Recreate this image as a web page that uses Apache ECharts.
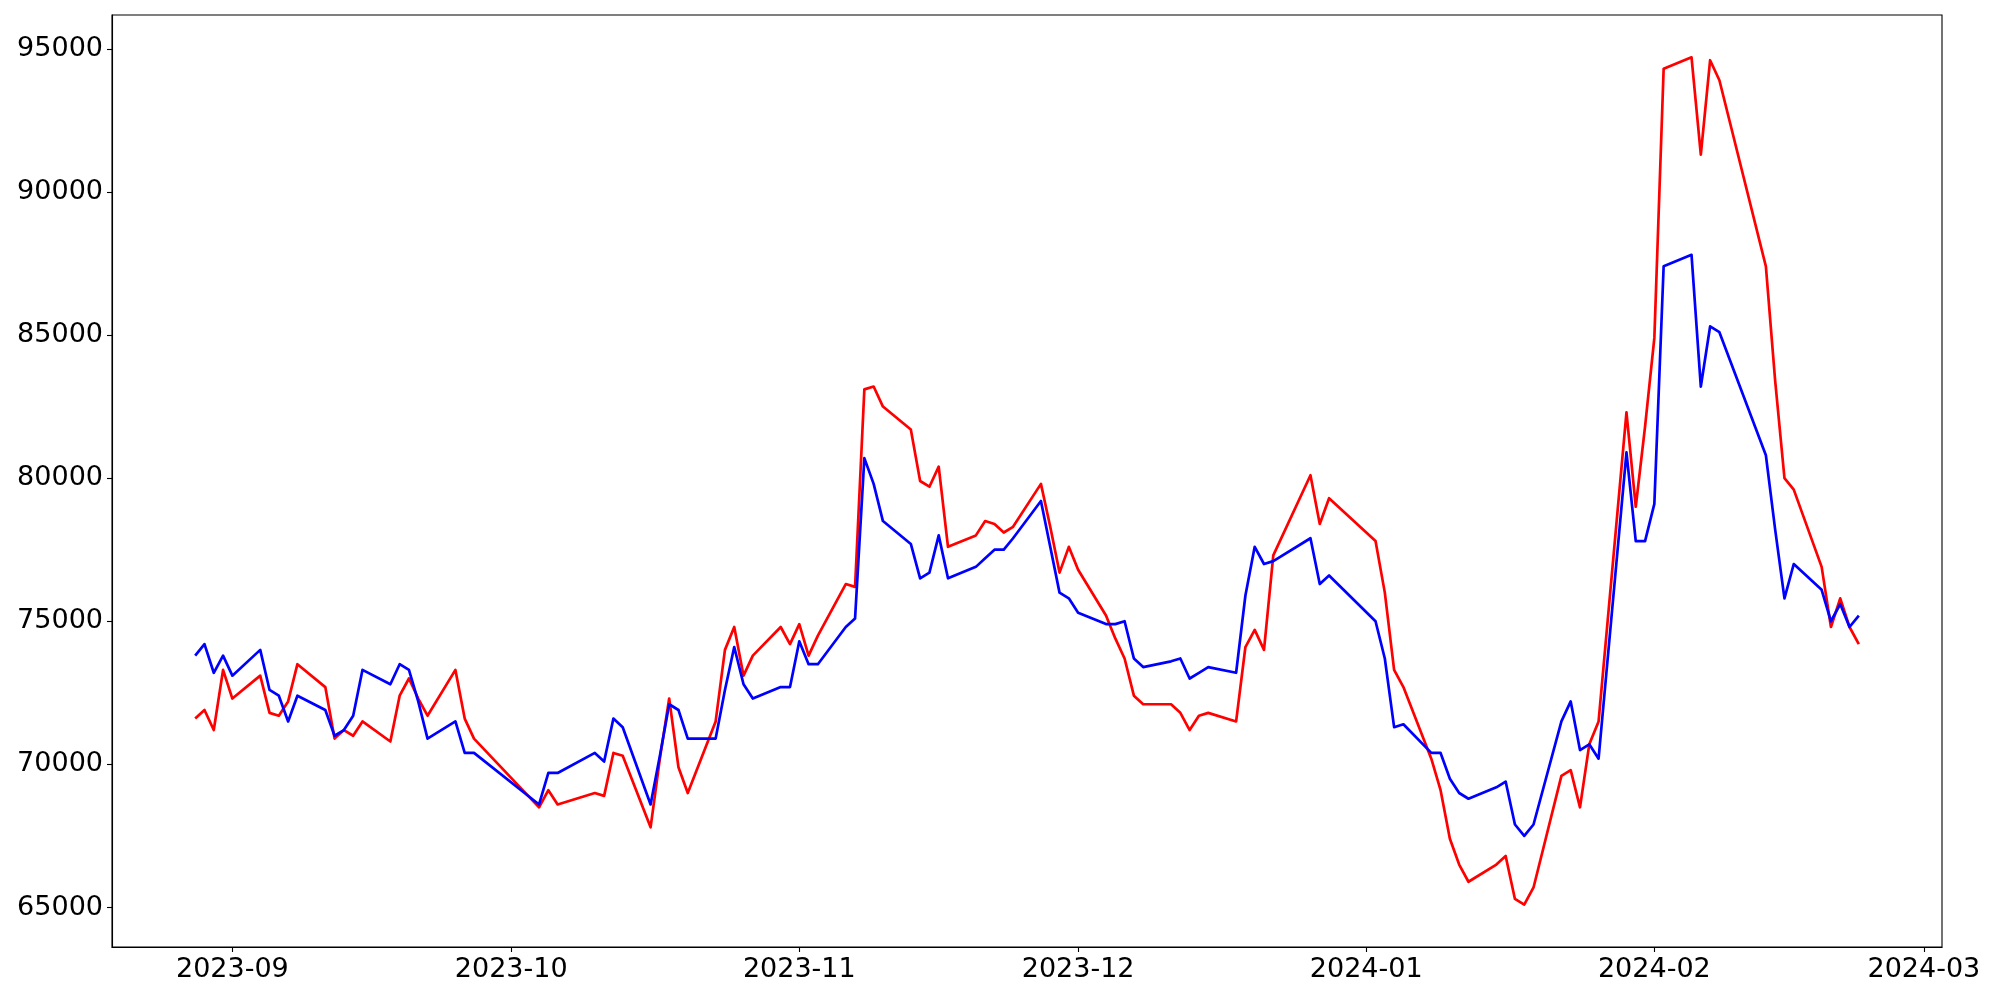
<!DOCTYPE html>
<html><head><meta charset="utf-8">
<script src="https://cdn.jsdelivr.net/npm/echarts@6/dist/echarts.min.js"></script>
<style>html,body{margin:0;padding:0;background:#fff}#c{width:2000px;height:1000px}</style>
</head><body><div id="c"></div>
<script>
const dates = [
'2023-08-28','2023-08-29','2023-08-30','2023-08-31','2023-09-01',
'2023-09-04','2023-09-05','2023-09-06','2023-09-07','2023-09-08',
'2023-09-11','2023-09-12','2023-09-13','2023-09-14','2023-09-15',
'2023-09-18','2023-09-19','2023-09-20','2023-09-21','2023-09-22',
'2023-09-25','2023-09-26','2023-09-27',
'2023-10-04','2023-10-05','2023-10-06',
'2023-10-10','2023-10-11','2023-10-12','2023-10-13',
'2023-10-16','2023-10-17','2023-10-18','2023-10-19','2023-10-20',
'2023-10-23','2023-10-24','2023-10-25','2023-10-26','2023-10-27',
'2023-10-30','2023-10-31','2023-11-01','2023-11-02','2023-11-03',
'2023-11-06','2023-11-07','2023-11-08','2023-11-09','2023-11-10',
'2023-11-13','2023-11-14','2023-11-15','2023-11-16','2023-11-17',
'2023-11-20','2023-11-21','2023-11-22','2023-11-23','2023-11-24',
'2023-11-27','2023-11-28','2023-11-29','2023-11-30','2023-12-01',
'2023-12-04','2023-12-05','2023-12-06','2023-12-07','2023-12-08',
'2023-12-11','2023-12-12','2023-12-13','2023-12-14','2023-12-15',
'2023-12-18','2023-12-19','2023-12-20','2023-12-21','2023-12-22',
'2023-12-26','2023-12-27','2023-12-28',
'2024-01-02','2024-01-03','2024-01-04','2024-01-05',
'2024-01-08','2024-01-09','2024-01-10','2024-01-11','2024-01-12',
'2024-01-15','2024-01-16','2024-01-17','2024-01-18','2024-01-19',
'2024-01-22','2024-01-23','2024-01-24','2024-01-25','2024-01-26',
'2024-01-29','2024-01-30','2024-01-31','2024-02-01','2024-02-02',
'2024-02-05','2024-02-06','2024-02-07','2024-02-08',
'2024-02-13','2024-02-14','2024-02-15','2024-02-16',
'2024-02-19','2024-02-20','2024-02-21','2024-02-22','2024-02-23'
];
const redValues = [
71600,71900,71200,73300,72300,
73100,71800,71700,72200,73500,
72700,70900,71200,71000,71500,
70800,72400,73000,72300,71700,
73300,71600,70900,
68500,69100,68600,
69000,68900,70400,70300,
67800,70200,72300,69900,69000,
71500,74000,74800,73100,73800,
74800,74200,74900,73800,74500,
76300,76200,83100,83200,82500,
81700,79900,79700,80400,77600,
78000,78500,78400,78100,78300,
79800,78300,76700,77600,76800,
75200,74400,73700,72400,72100,
72100,71800,71200,71700,71800,
71500,74100,74700,74000,77300,
80100,78400,79300,
77800,76000,73300,72700,
70200,69100,67400,66500,65900,
66500,66800,65300,65100,65700,
69600,69800,68500,70700,71500,
82300,79000,81800,84900,94300,
94700,91300,94600,93900,
87400,83400,80000,79600,
76900,74800,75800,74800,74200
];
const blueValues = [
73800,74200,73200,73800,73100,
74000,72600,72400,71500,72400,
71900,71000,71200,71700,73300,
72800,73500,73300,72200,70900,
71500,70400,70400,
68600,69700,69700,
70400,70100,71600,71300,
68600,70300,72100,71900,70900,
70900,72600,74100,72800,72300,
72700,72700,74300,73500,73500,
74800,75100,80700,79800,78500,
77700,76500,76700,78000,76500,
76900,77200,77500,77500,77900,
79200,77600,76000,75800,75300,
74900,74900,75000,73700,73400,
73600,73700,73000,73200,73400,
73200,75900,77600,77000,77100,
77900,76300,76600,
75000,73700,71300,71400,
70400,70400,69500,69000,68800,
69200,69400,67900,67500,67900,
71500,72200,70500,70700,70200,
80900,77800,77800,79100,87400,
87800,83200,85300,85100,
80800,78200,75800,77000,
76100,75000,75600,74800,75200
];
const yTickValues = [65000,70000,75000,80000,85000,90000,95000];
const xTickLabels = ['2023-09','2023-10','2023-11','2023-12','2024-01','2024-02','2024-03'];

function toTs(s){const p=s.split('-').map(Number);return new Date(p[0],p[1]-1,p[2]||1).getTime();}
const ts = dates.map(toTs);
const xTicks = xTickLabels.map(toTs);
const xSpan = ts[ts.length-1]-ts[0];
const xMin = ts[0]-0.05*xSpan, xMax = ts[ts.length-1]+0.05*xSpan;
const all = redValues.concat(blueValues);
const dMin = Math.min.apply(null, all), dMax = Math.max.apply(null, all);
const yPad = 0.05*(dMax-dMin);

const font = 'DejaVu Sans';
const chart = echarts.init(document.getElementById('c'), null, {renderer:'canvas'});
chart.setOption({
  animation:false,
  backgroundColor:'#ffffff',
  grid:{left:112,right:58,top:15,bottom:53,show:true,borderColor:'#000',borderWidth:1.1,backgroundColor:'transparent'},
  xAxis:{
    type:'value', min:xMin, max:xMax, scale:true,
    axisLine:{show:true,onZero:false,lineStyle:{color:'#000',width:1.1}},
    axisTick:{show:true,length:5,lineStyle:{color:'#000',width:1.1},customValues:xTicks},
    axisLabel:{show:true,color:'#000',fontFamily:font,fontSize:27,margin:9,customValues:xTicks,hideOverlap:false,
      formatter:function(v){const d=new Date(v);return d.getFullYear()+'-'+String(d.getMonth()+1).padStart(2,'0');}},
    splitLine:{show:false}, minorTick:{show:false}
  },
  yAxis:{
    type:'value', min:dMin-yPad, max:dMax+yPad, scale:true,
    axisLine:{show:true,onZero:false,lineStyle:{color:'#000',width:1.1}},
    axisTick:{show:true,length:5,lineStyle:{color:'#000',width:1.1},customValues:yTickValues},
    axisLabel:{show:true,color:'#000',fontFamily:font,fontSize:27,margin:9,customValues:yTickValues,
      formatter:function(v){return String(v);}},
    splitLine:{show:false}
  },
  series:[
    {type:'line',data:ts.map((t,i)=>[t,redValues[i]]),showSymbol:false,symbol:'none',
      lineStyle:{color:'#ff0000',width:2.7,join:'round',cap:'butt'},itemStyle:{color:'#ff0000'},z:2},
    {type:'line',data:ts.map((t,i)=>[t,blueValues[i]]),showSymbol:false,symbol:'none',
      lineStyle:{color:'#0000ff',width:2.7,join:'round',cap:'butt'},itemStyle:{color:'#0000ff'},z:3}
  ]
});
</script></body></html>
